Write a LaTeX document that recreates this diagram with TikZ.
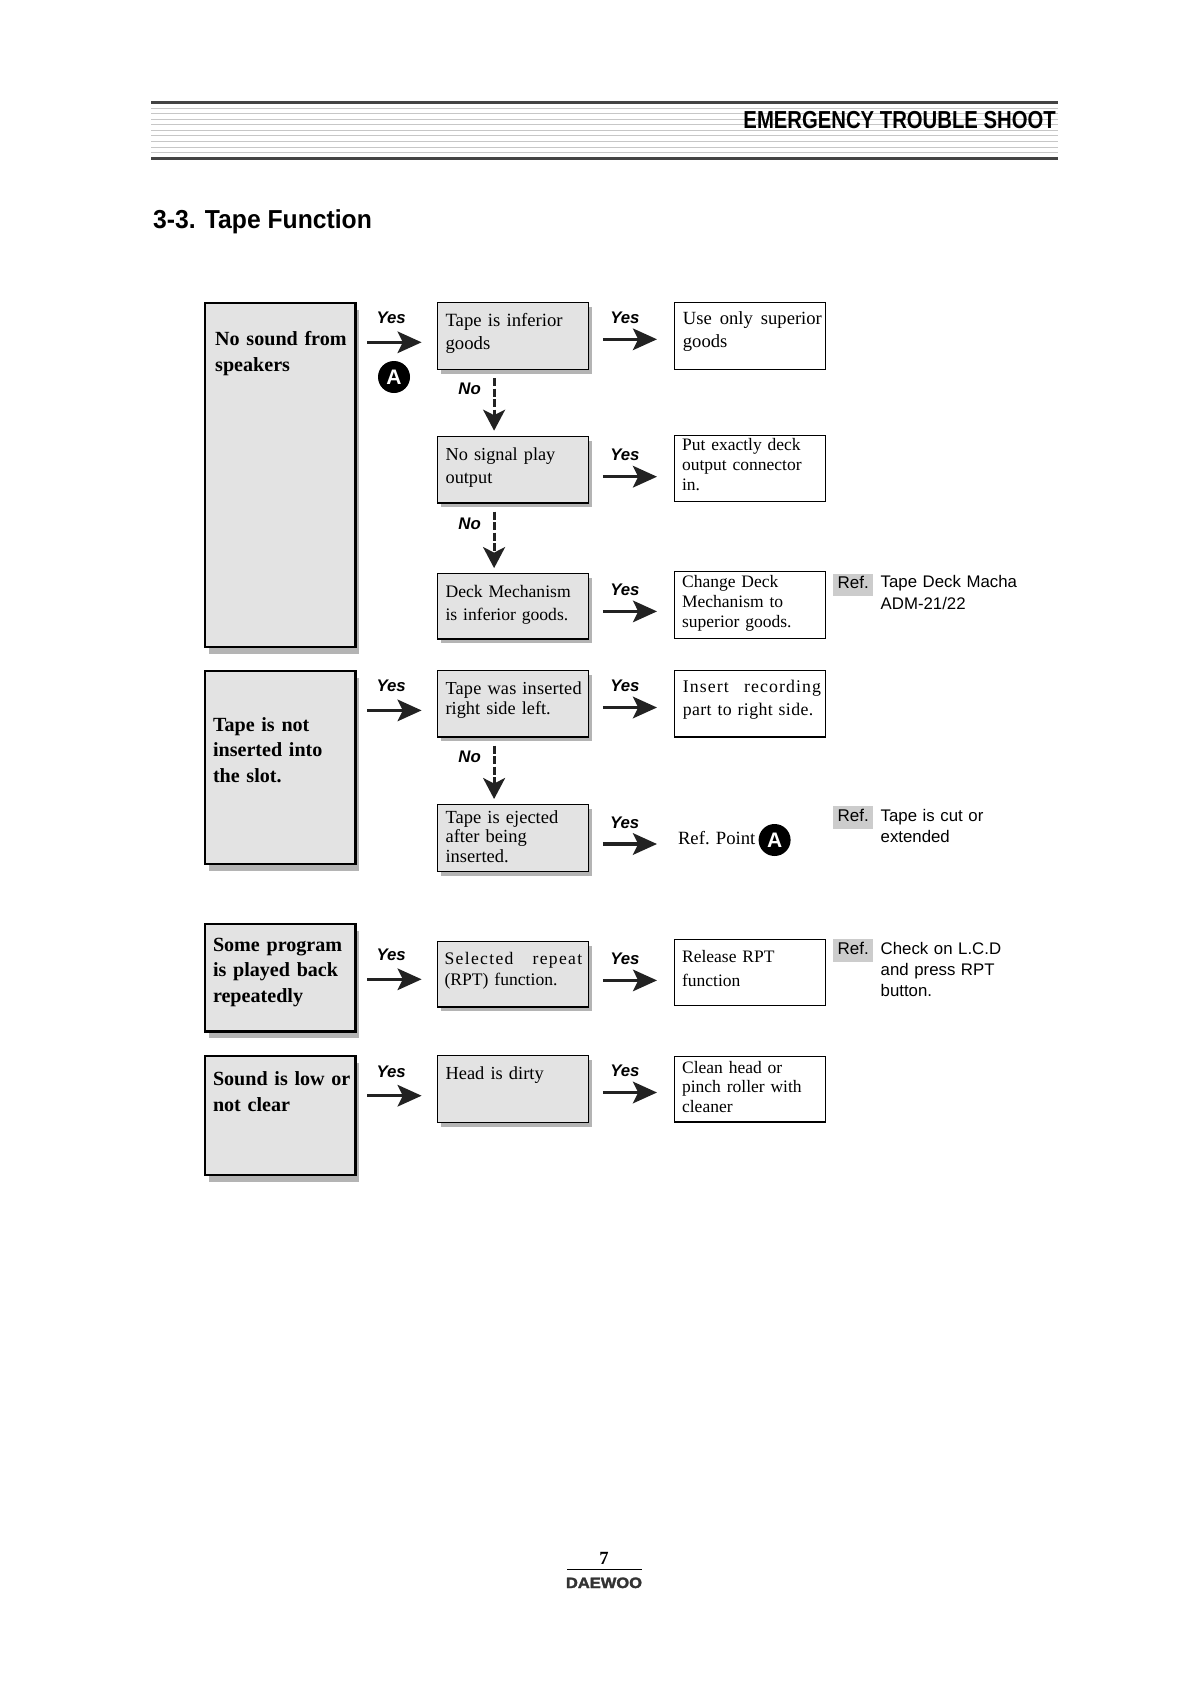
\documentclass[tikz,border=0pt]{standalone}
\usepackage{fontspec}
\usetikzlibrary{arrows.meta,shadows}
\setmainfont{Liberation Serif}
\setsansfont{Liberation Sans}
\newfontfamily\headfont{Liberation Sans}[FakeStretch=0.825]
\newfontfamily\titlefont{Liberation Sans}[FakeStretch=0.95]
\newfontfamily\logofont{Liberation Sans}[FakeStretch=1.1,FakeBold=2]
\definecolor{boxgray}{HTML}{E3E3E3}
\definecolor{shadowgray}{HTML}{B4B4B4}
\definecolor{refgray}{HTML}{CCCCCC}
\definecolor{rulegray}{HTML}{444444}
\definecolor{arrowdark}{HTML}{222222}
\tikzset{
  flowbox/.style={anchor=north west, align=left, inner xsep=0pt, inner ysep=0pt, outer sep=0pt},
  boxsize/.style n args={2}{text height=#1pt, text depth=#2pt},
  inset/.style={execute at begin node={\leftskip=#1pt\relax}},
  plainfont/.style n args={2}{font=\fontsize{#1}{#2}\selectfont},
  symptom/.style={flowbox, draw, line width=2.2pt, fill=boxgray, text width=150.4pt, inset=8,
    font=\fontsize{20.1}{#1}\selectfont\bfseries,
    drop shadow={shadow xshift=4pt, shadow yshift=-7pt, fill=shadowgray, opacity=1}},
  cause/.style={flowbox, draw, line width=1.1pt, fill=boxgray, text width=151pt, inset=8,
    drop shadow={shadow xshift=3pt, shadow yshift=-4.3pt, fill=shadowgray, opacity=1}},
  remedy/.style={flowbox, draw, line width=1.1pt, fill=white, text width=151.3pt, inset=7.8},
  yesmark/.style={inner sep=0pt, text=black,
    font=\fontsize{16.8}{18}\selectfont\sffamily\bfseries\itshape},
  yesleft/.style={yesmark, xshift=-5.3pt, yshift=24.3pt},
  yesright/.style={yesmark, xshift=-6.5pt, yshift=21.5pt},
  yesarrow/.style={line width=3.3pt, draw=arrowdark,
    -{Stealth[length=24pt, width=21.5pt, inset=5.2pt]}},
  leftarrow/.style={yesarrow, shorten <=11.9pt, shorten >=16pt},
  rightarrow/.style={yesarrow, shorten <=14.3pt, shorten >=17.3pt},
  noarrow/.style={line width=2.8pt, draw=arrowdark, dash pattern=on 8pt off 2.5pt,
    -{Stealth[length=21pt, width=22pt, inset=5.5pt]}, shorten <=8.7pt, shorten >=5.6pt},
  nomark/.style={yesmark, xshift=-24.5pt, yshift=14.5pt},
  pointA/.style={circle, fill=black, text=white, inner sep=0pt, minimum size=32pt,
    font=\fontsize{21}{21}\selectfont\sffamily\bfseries},
  refbox/.style={anchor=north west, fill=refgray, minimum width=40pt, minimum height=22.6pt,
    inner sep=0pt, text height=12pt, text depth=3.9pt, font=\fontsize{17}{17}\selectfont\sffamily},
  refnote/.style={anchor=north west, align=left, inner sep=0pt, text width=170pt, text height=13pt,
    font=\fontsize{16.8}{#1}\selectfont\sffamily},
  headrule/.style={line width=3pt, draw=rulegray},
  headline/.style={line width=1pt, draw=black!22}
}
\begin{document}
\begin{tikzpicture}[x=1pt,y=-1pt]
  \useasboundingbox (0,0) rectangle (1191,1684);

  % page header
  \foreach \yy in {108.3,113.3,119.3,124.3,130.3,135.3,141.3,147.3,152.3}
    \draw[headline] (151,\yy) -- (1058,\yy);
  \draw[headrule] (151,102.5) -- (1058,102.5);
  \draw[headrule] (151,158.5) -- (1058,158.5);
  \node[anchor=base east, inner sep=0pt, font=\fontsize{24.6}{26}\selectfont\headfont\bfseries]
    (header) at (1056,128.3) {EMERGENCY TROUBLE SHOOT};
  \node[anchor=base west, inner sep=0pt, font=\fontsize{26}{28}\selectfont\titlefont\bfseries]
    (title) at (153,228.3) {3-3. Tape Function};

  % symptoms
  \node[symptom=26.7, boxsize={42.3}{301.8}, inset=10.2] (s1) at (205,302.7) {No sound from\\speakers};
  \node[symptom=25.5, boxsize={60.4}{133.2}] (s2) at (205,670.7) {Tape is not\\inserted into\\the slot.};
  \node[symptom=25.5, boxsize={27.4}{80}] (s3) at (205,924) {Some program\\is played back\\repeatedly};
  \node[symptom=26.4, boxsize={29.3}{90}] (s4) at (205,1055.7) {Sound is low or\\not clear};

  % causes
  \node[cause, plainfont={18.7}{23}, boxsize={24}{43}] (q1) at (437.6,302.3) {Tape is inferior\\goods};
  \node[cause, plainfont={18.3}{23.2}, boxsize={23.7}{43}] (q2) at (437.6,436.3) {No signal play\\output};
  \node[cause, plainfont={17.6}{22.3}, boxsize={24}{41.3}] (q3) at (437.6,573.7) {Deck Mechanism\\is inferior goods.};
  \node[cause, plainfont={18.3}{20}, boxsize={23.6}{42.7}] (q4) at (437.6,670.7)
    {{\addfontfeature{LetterSpace=1}Tape was inserted}\\right side left.};
  \node[cause, plainfont={18.5}{19.2}, boxsize={19}{47.8}] (q5) at (437.6,804.6) {Tape is ejected\\after being\\inserted.};
  \node[cause, plainfont={17.6}{21}, boxsize={22.5}{42.7}, inset=7] (q6) at (437.6,941.8)
    {\hbox to 137.6pt{\addfontfeature{LetterSpace=7.5}Selected\hfill repeat}\\(RPT) function.};
  \node[cause, plainfont={18.4}{22}, boxsize={24}{43.1}] (q7) at (437.6,1055.4) {Head is dirty};

  % remedies
  \node[remedy, plainfont={18.6}{22.7}, boxsize={22}{45}, inset=8.6] (a1) at (674.3,302.3)
    {\hbox to 139pt{Use\hfill only\hfill superior}\\goods};
  \node[remedy, plainfont={17.5}{20}, boxsize={15.4}{50.6}] (a2) at (674.3,435.3) {Put exactly deck\\output connector\\in.};
  \node[remedy, plainfont={17.5}{20}, boxsize={16.4}{50.6}] (a3) at (674.3,571.3) {Change Deck\\Mechanism to\\superior goods.};
  \node[remedy, plainfont={17.8}{22.6}, boxsize={22.2}{44.1}, inset=8.6] (a4) at (674.3,670.7)
    {\hbox to 138pt{\addfontfeature{LetterSpace=6}Insert\hfill recording}\\{\addfontfeature{LetterSpace=2}part to right side.}};
  \node[remedy, plainfont={17.5}{23.8}, boxsize={23}{43.1}] (a6) at (674.3,939.3) {Release RPT\\function};
  \node[remedy, plainfont={17.5}{19.5}, boxsize={16.6}{49}] (a7) at (674.3,1056.4) {Clean head or\\pinch roller with\\cleaner};

  \node[anchor=base west, inner sep=0pt, plainfont={18.7}{20}] (refpt) at (677.8,844.3) {Ref. Point};
  \node[pointA] (markA) at (394,377) {A};
  \node[pointA] (markB) at (774.6,840) {A};

  % yes connectors
  \draw[leftarrow] (s1.east |- 0,342.3) -- node[yesleft] (y1) {Yes} (q1.west |- 0,342.3);
  \draw[rightarrow] (q1.east |- 0,339.3) -- node[yesright] (y2) {Yes} (a1.west |- 0,339.3);
  \draw[rightarrow] (q2.east |- 0,476.7) -- node[yesright] (y3) {Yes} (a2.west |- 0,476.7);
  \draw[rightarrow] (q3.east |- 0,611.4) -- node[yesright] (y4) {Yes} (a3.west |- 0,611.4);
  \draw[leftarrow] (s2.east |- 0,710.4) -- node[yesleft] (y5) {Yes} (q4.west |- 0,710.4);
  \draw[rightarrow] (q4.east |- 0,707.5) -- node[yesright] (y6) {Yes} (a4.west |- 0,707.5);
  \draw[rightarrow, shorten >=20.8pt] (q5.east |- 0,844) -- node[yesright, xshift=-2pt] (y7) {Yes} (refpt.west |- 0,844);
  \draw[leftarrow] (s3.east |- 0,979.3) -- node[yesleft] (y8) {Yes} (q6.west |- 0,979.3);
  \draw[rightarrow] (q6.east |- 0,980.4) -- node[yesright] (y9) {Yes} (a6.west |- 0,980.4);
  \draw[leftarrow] (s4.east |- 0,1095.7) -- node[yesleft] (y10) {Yes} (q7.west |- 0,1095.7);
  \draw[rightarrow] (q7.east |- 0,1092.5) -- node[yesright] (y11) {Yes} (a7.west |- 0,1092.5);

  % no connectors
  \draw[noarrow] ([xshift=-19pt]q1.south) -- node[nomark] (n1) {No} ([xshift=-19pt]q2.north);
  \draw[noarrow] ([xshift=-19pt]q2.south) -- node[nomark] (n2) {No} ([xshift=-19pt]q3.north);
  \draw[noarrow] ([xshift=-19pt]q4.south) -- node[nomark] (n3) {No} ([xshift=-19pt]q5.north);

  % side notes
  \node[refbox] (r1) at (833,573.3) {Ref.};
  \node[refnote=22] (t1) at (880.5,574) {Tape Deck Macha\\ADM-21/22};
  \node[refbox] (r2) at (833,806) {Ref.};
  \node[refnote=20.7] (t2) at (880.5,808.7) {Tape is cut or\\extended};
  \node[refbox] (r3) at (833,939) {Ref.};
  \node[refnote=21] (t3) at (880.5,941) {Check on L.C.D\\and press RPT\\button.};

  % page footer
  \node[anchor=base, inner sep=0pt, font=\fontsize{18.6}{20}\selectfont\bfseries] (pagenum) at (604,1564) {7};
  \draw[line width=1.2pt] (567,1569.3) -- (641.7,1569.3);
  \node[anchor=base, inner sep=0pt, text=black!80, font=\fontsize{15}{15}\selectfont\logofont\bfseries] (logo) at (604,1588) {DAEWOO};
\end{tikzpicture}
\end{document}
